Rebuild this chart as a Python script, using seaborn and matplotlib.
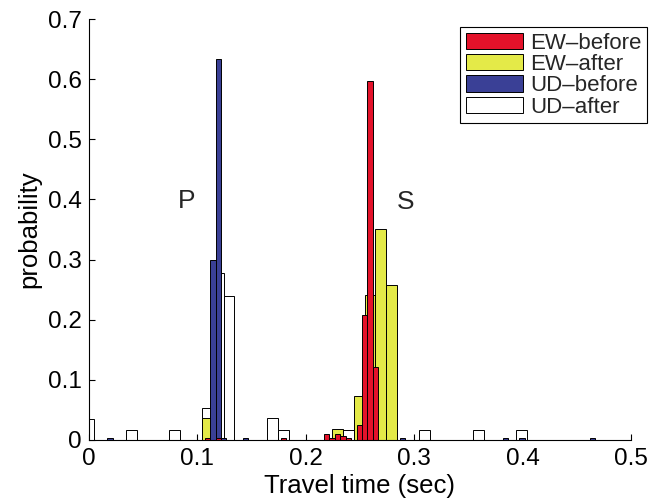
import matplotlib
matplotlib.use("Agg")
import matplotlib.pyplot as plt
import numpy as np
import pandas as pd
import seaborn as sns
from matplotlib.patches import Patch

# bin centres (sec) and probabilities
ew_before_x = [0.1093, 0.1193, 0.1790, 0.2193, 0.2241, 0.2290, 0.2340, 0.2389,
               0.2497, 0.2546, 0.2595, 0.2645]
ew_before_p = [0.003, 0.003, 0.003, 0.010, 0.004, 0.010, 0.007, 0.003,
               0.025, 0.207, 0.597, 0.122]

ew_after_x = [0.1092, 0.2292, 0.2492, 0.2592, 0.2692, 0.2792]
ew_after_p = [0.036, 0.018, 0.073, 0.241, 0.351, 0.258]

ud_before_x = [0.0192, 0.1144, 0.1195, 0.1247, 0.1446, 0.2899, 0.3845, 0.3993, 0.4645]
ud_before_p = [0.003, 0.300, 0.634, 0.003, 0.003, 0.003, 0.003, 0.003, 0.003]

ud_after_x = [-0.0008, 0.0392, 0.0792, 0.1092, 0.1192, 0.1292, 0.1692, 0.1792,
              0.2392, 0.3092, 0.3592, 0.3992]
ud_after_p = [0.035, 0.017, 0.017, 0.054, 0.277, 0.240, 0.036, 0.017,
              0.017, 0.017, 0.017, 0.017]

labels = ["EW\u2013before", "EW\u2013after", "UD\u2013before", "UD\u2013after"]
colors = ["#E4122A", "#E4EA48", "#3A4096", "#FFFFFF"]

xticks = [0, 0.1, 0.2, 0.3, 0.4, 0.5]
xtick_labels = ["0", "0.1", "0.2", "0.3", "0.4", "0.5"]
yticks = [0, 0.1, 0.2, 0.3, 0.4, 0.5, 0.6, 0.7]
ytick_labels = ["0", "0.1", "0.2", "0.3", "0.4", "0.5", "0.6", "0.7"]

sns.set_theme(style="white")
plt.rcParams["font.family"] = ["Liberation Sans", "DejaVu Sans"]

fig = plt.figure(figsize=(6.59, 5.04), dpi=100)
ax = fig.add_axes([0.135, 0.127, 0.8225, 0.8353])

wide_bins = list(np.arange(-0.0058, 0.51, 0.01))
narrow_bins = list(np.arange(-0.0032, 0.505, 0.005))

# back to front: UD-after, EW-after, UD-before, EW-before
series = [
    (ud_after_x, ud_after_p, wide_bins, colors[3]),
    (ew_after_x, ew_after_p, wide_bins, colors[1]),
    (ud_before_x, ud_before_p, narrow_bins, colors[2]),
    (ew_before_x, ew_before_p, narrow_bins, colors[0]),
]
for xs, ps, bins, col in series:
    df = pd.DataFrame({"t": xs, "p": ps})
    sns.histplot(data=df, x="t", weights="p", bins=bins, stat="count", ax=ax,
                 color=col, alpha=1, edgecolor="black", linewidth=0.7)

ax.set_xlim(0, 0.5)
ax.set_ylim(0, 0.7)
ax.set_xticks(xticks)
ax.set_xticklabels(xtick_labels)
ax.set_yticks(yticks)
ax.set_yticklabels(ytick_labels)
ax.tick_params(direction="in", length=4, width=0.8, labelsize=17.5, colors="black",
               bottom=True, left=True)
ax.tick_params(axis="x", pad=6)
ax.tick_params(axis="y", pad=5)
for side in ["top", "right"]:
    ax.spines[side].set_visible(False)
for side in ["left", "bottom"]:
    ax.spines[side].set_color("black")
    ax.spines[side].set_linewidth(0.8)

ax.set_xlabel("Travel time (sec)", fontsize=18.5, labelpad=3, color="black")
ax.set_ylabel("probability", fontsize=18.5, labelpad=5, color="black")

ax.text(0.090, 0.386, "P", fontsize=19, ha="center", va="baseline")
ax.text(0.2923, 0.384, "S", fontsize=19, ha="center", va="baseline")

handles = [Patch(facecolor=c, edgecolor="black", linewidth=0.7) for c in colors]
leg = ax.legend(handles, labels, loc="upper right", bbox_to_anchor=(1.0295, 0.981),
                fontsize=16, frameon=True, fancybox=False, framealpha=1,
                edgecolor="black", handlelength=2.6, handleheight=0.76,
                handletextpad=0.3, labelspacing=0.02, borderpad=0.25,
                borderaxespad=0)
leg.get_frame().set_linewidth(0.8)

fig.savefig("out.png", dpi=100)
